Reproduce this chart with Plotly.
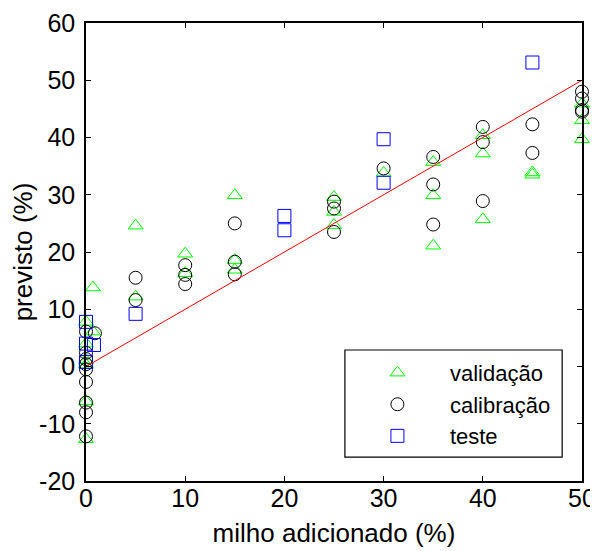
import plotly.graph_objects as go

# validação (triangles)
val_x = [0, 0, 0, 0, 0, 0, 0.7, 0.7, 5, 5, 10, 10, 15, 15, 15, 25, 25, 25, 30,
         35, 35, 35, 40, 40, 40, 45, 45, 50, 50, 50]
val_y = [7.8, 4.0, 1.1, 0.3, -6.1, -12.7, 13.8, 6.1, 24.6, 12.2, 19.7, 16.3, 29.9, 18.6, 16.9,
         29.6, 27.0, 24.7, 33.8, 35.7, 29.9, 21.1, 40.4, 37.2, 25.7, 33.9, 33.5, 45.9, 43.0, 39.7]

# calibração (circles)
cal_x = [0, 0, 0, 0, 0, 0, 0, 0, 0, 0.9, 5, 5, 10, 10, 10, 15, 15, 15, 25, 25, 25, 30,
         35, 35, 35, 40, 40, 40, 45, 45, 50, 50, 50, 50]
cal_y = [6.1, 2.4, 1.3, 0.4, -0.5, -2.7, -6.3, -8.0, -12.2, 5.8, 15.5, 11.6, 17.7, 16.0, 14.4,
         25.0, 18.3, 16.1, 28.8, 27.6, 23.5, 34.6, 36.6, 31.8, 24.8, 41.85, 39.2, 28.9,
         42.3, 37.3, 48.0, 46.8, 44.8, 44.5]

# teste (squares)
tes_x = [0, 0, 0, 0.8, 5, 20, 20, 30, 30, 45]
tes_y = [7.8, 4.0, 0.8, 3.75, 9.2, 26.3, 23.8, 39.7, 32.1, 53.1]

# reference line
line_x = [0, 50]
line_y = [0, 50]

x_ticks = [0, 10, 20, 30, 40, 50]
x_tick_labels = ["0", "10", "20", "30", "40", "50"]
y_ticks = [-20, -10, 0, 10, 20, 30, 40, 50, 60]
y_tick_labels = ["-20", "-10", "0", "10", "20", "30", "40", "50", "60"]

FONT = "Liberation Sans, Arial, sans-serif"

fig = go.Figure()
fig.add_trace(go.Scatter(x=val_x, y=val_y, mode="markers", name="validação",
                         marker=dict(symbol="triangle-up-open", size=13, color="#00ff00",
                                     line=dict(width=1, color="#00ff00")),
                         cliponaxis=False))
fig.add_trace(go.Scatter(x=cal_x, y=cal_y, mode="markers", name="calibração",
                         marker=dict(symbol="circle-open", size=13, color="black",
                                     line=dict(width=1, color="black")),
                         cliponaxis=False))
fig.add_trace(go.Scatter(x=tes_x, y=tes_y, mode="markers", name="teste",
                         marker=dict(symbol="square-open", size=13, color="#0000ff",
                                     line=dict(width=1, color="#0000ff")),
                         cliponaxis=False))
fig.add_trace(go.Scatter(x=line_x, y=line_y, mode="lines", showlegend=False,
                         line=dict(color="red", width=1)))

axis_common = dict(showline=True, linecolor="black", linewidth=1.5, mirror="ticks",
                   ticks="inside", ticklen=5, tickwidth=1, tickcolor="black",
                   showgrid=False, zeroline=False, automargin=False,
                   ticklabeloverflow="allow",
                   tickfont=dict(family=FONT, size=25, color="black"))

fig.update_xaxes(range=[0, 50], tickvals=x_ticks, ticktext=x_tick_labels, ticklabelstandoff=-6,
                 title=dict(text="milho adicionado (%)", font=dict(family=FONT, size=26, color="black"),
                            standoff=13),
                 **axis_common)
fig.update_yaxes(range=[-20, 60], tickvals=y_ticks, ticktext=y_tick_labels, ticklabelstandoff=4,
                 title=dict(text="previsto (%)", font=dict(family=FONT, size=26, color="black"),
                            standoff=0),
                 **axis_common)

# legend frame
fig.add_shape(type="rect", xref="paper", yref="paper", x0=0.522, x1=0.960, y0=0.052, y1=0.286,
              line=dict(color="black", width=1.2), fillcolor="white", layer="below")

fig.update_layout(
    width=590, height=543,
    margin=dict(l=78, r=16, t=15, b=70),
    paper_bgcolor="white", plot_bgcolor="white",
    showlegend=True,
    legend=dict(x=0.522, y=0.282, xanchor="left", yanchor="top",
                borderwidth=0, bgcolor="rgba(0,0,0,0)",
                font=dict(family=FONT, size=22, color="black"),
                itemwidth=95),
)

fig.write_html("out.html")
